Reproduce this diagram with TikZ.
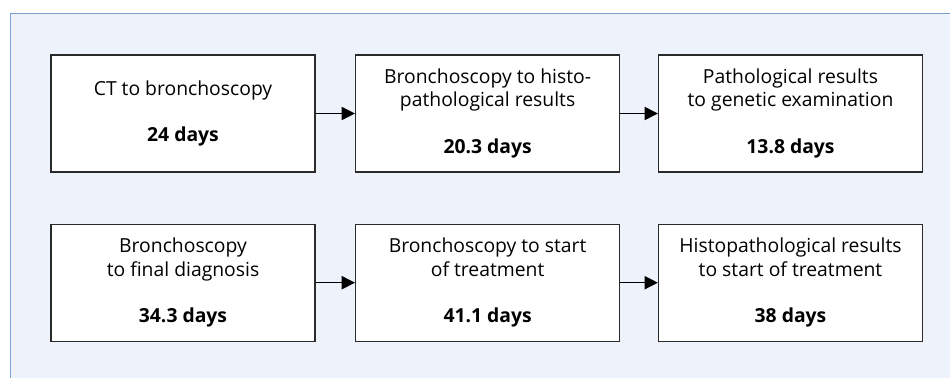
\documentclass[tikz,border=0pt]{standalone}
\usepackage{fontspec}
\setmainfont{Open Sans}
\usetikzlibrary{arrows.meta}
\definecolor{panelfill}{HTML}{EEF2FA}
\definecolor{panelline}{HTML}{7A9FD0}
\definecolor{boxline}{HTML}{2A2A2A}
\tikzset{
  stepbox/.style={draw=boxline, line width=1pt, fill=white, minimum width=198pt, minimum height=87.75pt,
    align=center, inner sep=0pt, font=\fontsize{14.5pt}{17.4pt}\selectfont},
  flow/.style={draw=black, line width=0.9pt, -{Triangle[length=10pt,width=10pt]}}
}
\begin{document}
\begin{tikzpicture}[x=0.75pt,y=-0.75pt]
\useasboundingbox (0,0) rectangle (950,378);
\fill[panelfill] (10.5,13.5) rectangle (950,378);
\draw[panelline, line width=1pt] (10.5,378) -- (10.5,13.5) -- (950,13.5);
\node[stepbox] (a) at (183,113.5) {CT to bronchoscopy\\[17.4pt]\textbf{24 days}};
\node[stepbox] (b) at (487.6,113.5) {Bronchoscopy to histo-\\pathological results\\[17.4pt]\textbf{20.3 days}};
\node[stepbox] (c) at (790.5,113.5) {Pathological results\\to genetic examination\\[17.4pt]\textbf{13.8 days}};
\node[stepbox] (d) at (183,282.7) {Bronchoscopy\\to final diagnosis\\[17.4pt]\textbf{34.3 days}};
\node[stepbox] (e) at (487.6,282.7) {Bronchoscopy to start\\of treatment\\[17.4pt]\textbf{41.1 days}};
\node[stepbox] (f) at (790.5,282.7) {Histopathological results\\to start of treatment\\[17.4pt]\textbf{38 days}};
\draw[flow] (a) -- (b);
\draw[flow] (b) -- (c);
\draw[flow] (d) -- (e);
\draw[flow] (e) -- (f);
\end{tikzpicture}
\end{document}
